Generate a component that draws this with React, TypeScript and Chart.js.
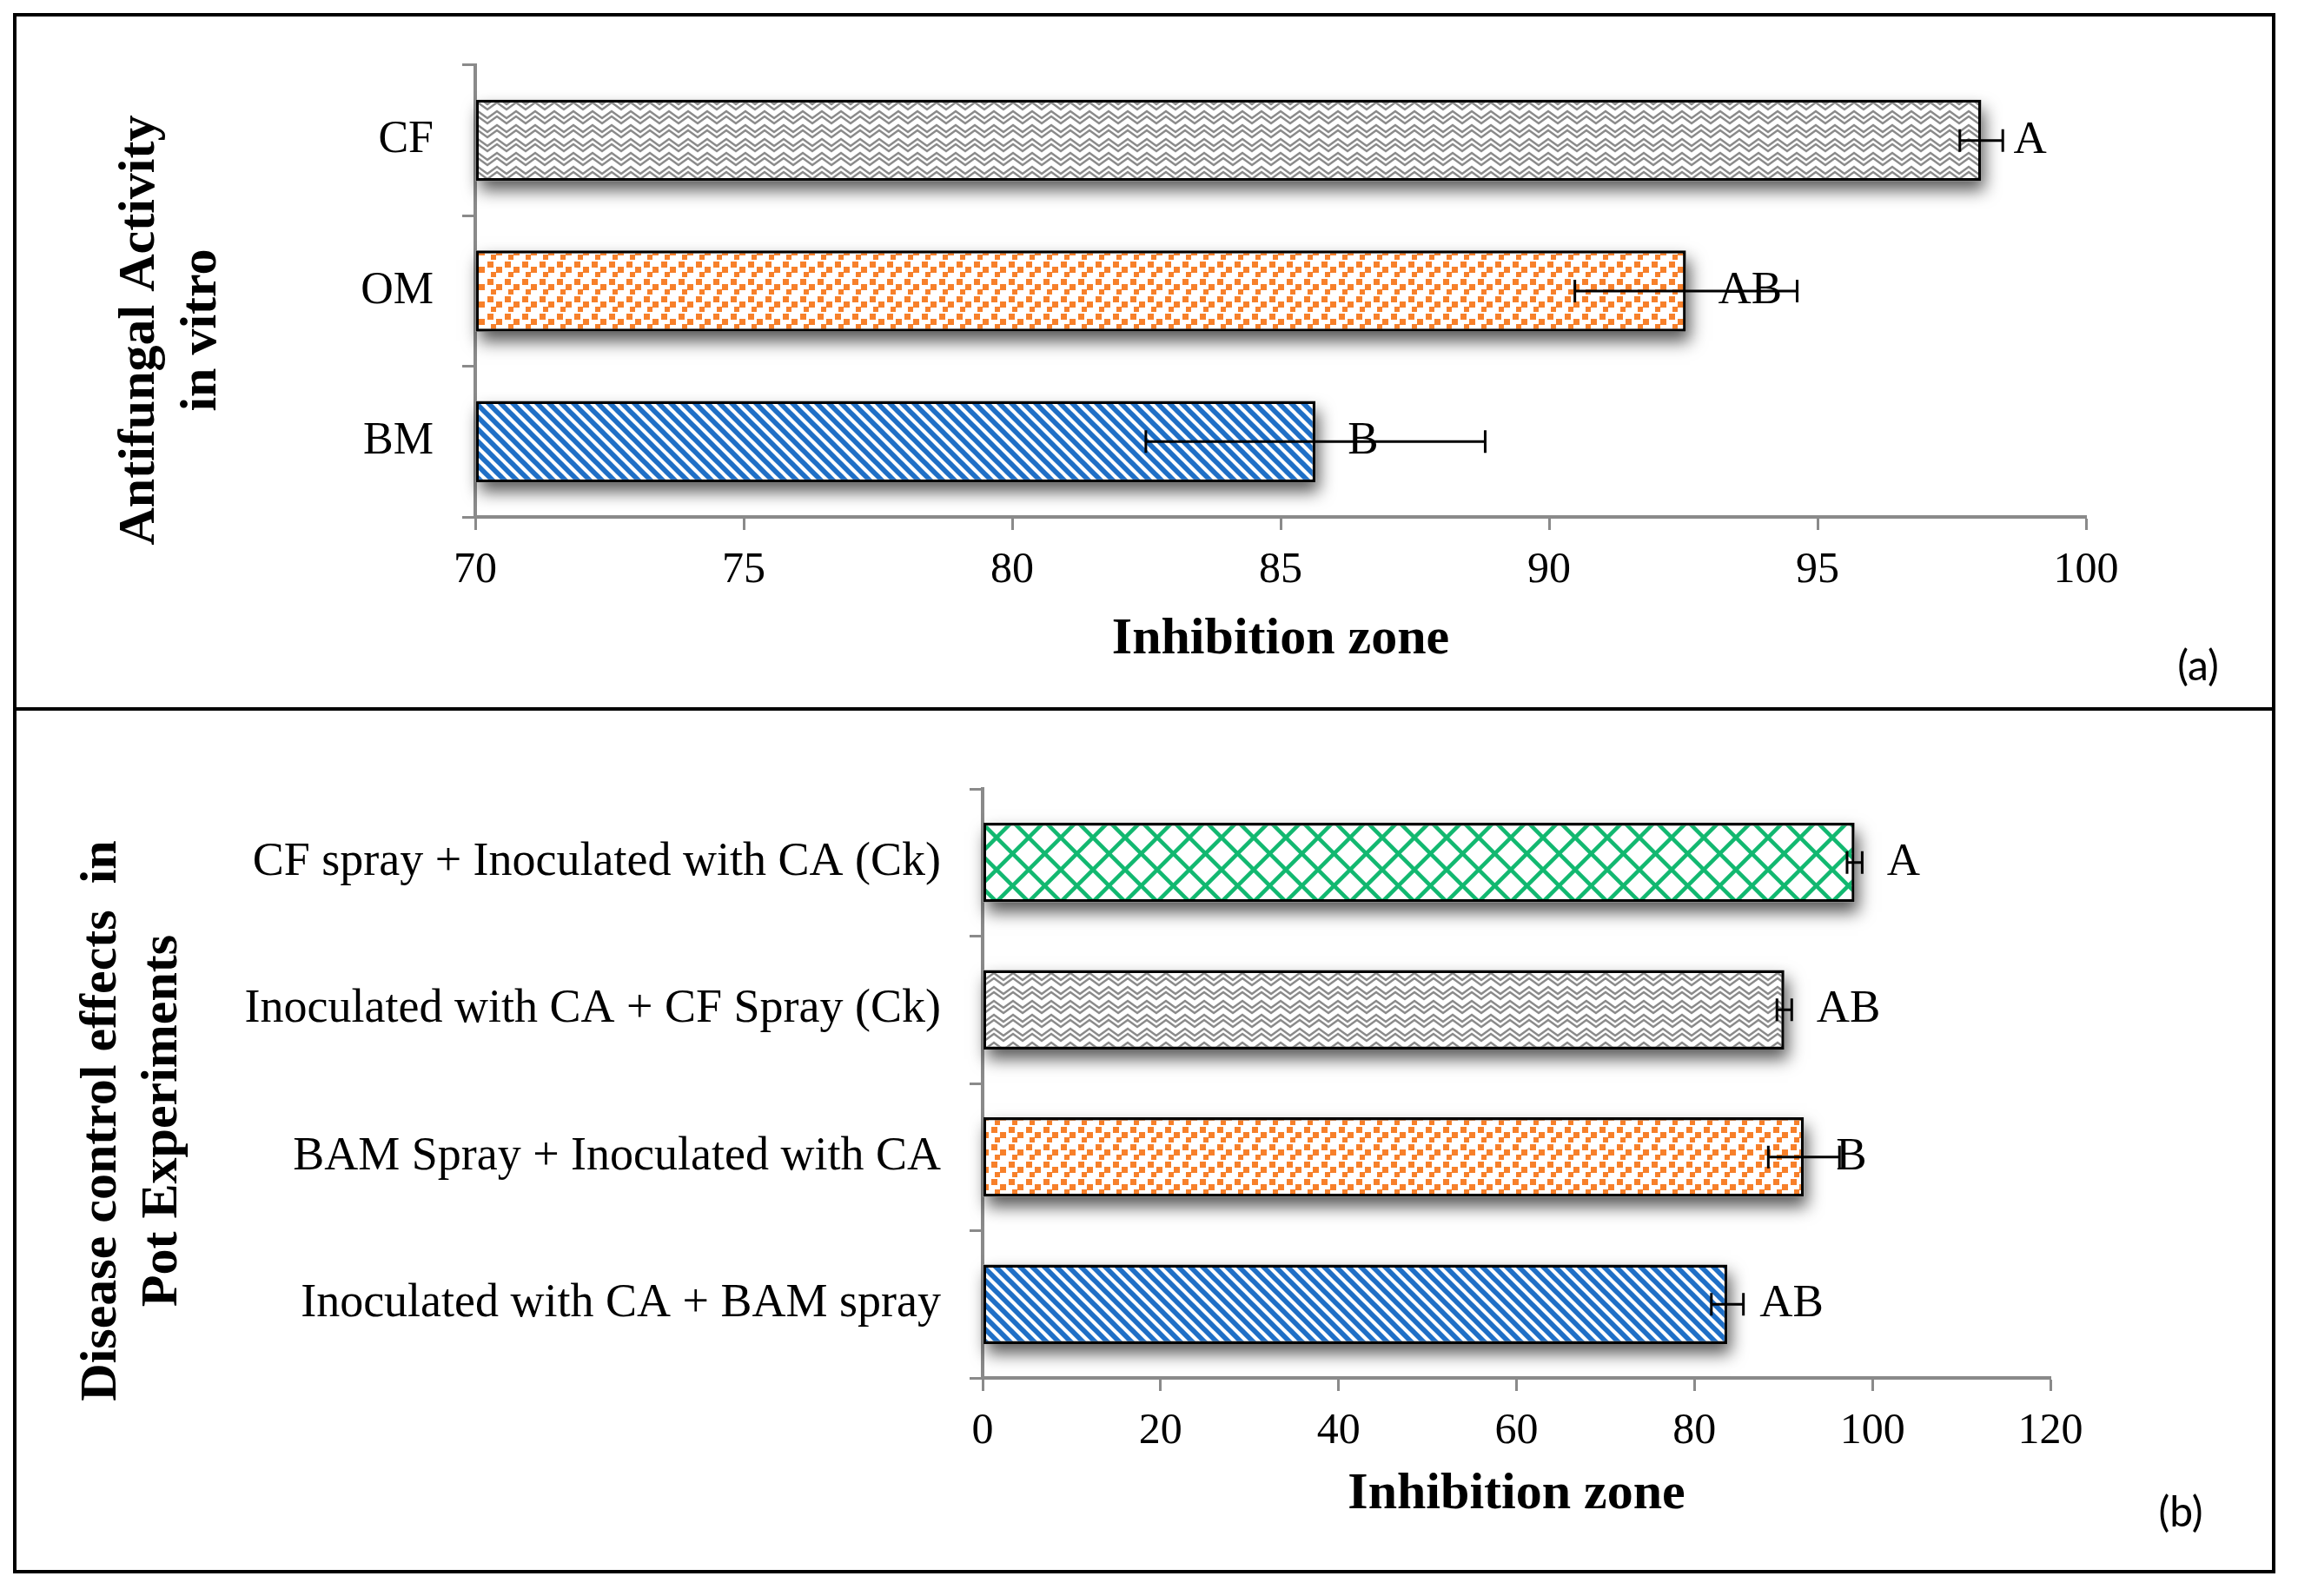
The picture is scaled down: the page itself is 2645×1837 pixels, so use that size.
import React, { useEffect, useRef } from 'react';
import { Chart, registerables } from 'chart.js';

Chart.register(...registerables);

// ---------- data ----------
const topCategories = ['CF', 'OM', 'BM'];
const topValues = [98.05, 92.55, 85.65];
const topErrors = [0.4, 2.07, 3.16];
const topLetters = ['A', 'AB', 'B'];
const topPatterns = ['zigzag', 'dots', 'stripes'];
const topAxis = { min: 70, max: 100, step: 5 };
const topYTitle = ['Antifungal Activity', 'in vitro'];

const bottomCategories = [
  'CF spray + Inoculated with CA (Ck)',
  'Inoculated with CA + CF Spray (Ck)',
  'BAM Spray + Inoculated with CA',
  'Inoculated with CA + BAM spray',
];
const bottomValues = [98.0, 90.1, 92.3, 83.7];
const bottomErrors = [0.85, 0.83, 4.0, 1.8];
const bottomLetters = ['A', 'AB', 'B', 'AB'];
const bottomPatterns = ['diamond', 'zigzag', 'dots', 'stripes'];
const bottomAxis = { min: 0, max: 120, step: 20 };
const bottomYTitle = ['Disease control effects  in', 'Pot Experiments'];

const xTitle = 'Inhibition zone';

// ---------- styling ----------
const W = 2645;
const H = 1837;
const SERIF = '"Liberation Serif", "Times New Roman", serif';
const AXIS = '#8a8a8a';

function makePattern(kind: string): CanvasPattern | string {
  const c = document.createElement('canvas');
  const g = c.getContext('2d');
  if (!g) return '#ccc';
  if (kind === 'zigzag') {
    c.width = 22; c.height = 16;
    g.fillStyle = '#fff'; g.fillRect(0, 0, 22, 16);
    g.strokeStyle = '#8a8a8a'; g.lineWidth = 2.4;
    for (const oy of [-16, -10, 0, 6, 16]) {
      g.beginPath();
      g.moveTo(-11, oy + 8); g.lineTo(0, oy); g.lineTo(11, oy + 8); g.lineTo(22, oy); g.lineTo(33, oy + 8);
      g.stroke();
    }
  } else if (kind === 'dots') {
    c.width = 20; c.height = 20;
    g.fillStyle = '#fff'; g.fillRect(0, 0, 20, 20);
    g.fillStyle = '#f7802a';
    g.fillRect(1, 1, 7, 7);
    g.fillRect(11, 7, 7, 7);
    g.fillRect(5, 13, 6, 6);
  } else if (kind === 'stripes') {
    const s = 14;
    c.width = s; c.height = s;
    g.fillStyle = '#fff'; g.fillRect(0, 0, s, s);
    g.strokeStyle = '#1f6fc6'; g.lineWidth = 5.8;
    for (const d of [-s, 0, s]) {
      g.beginPath(); g.moveTo(d - 3, -3); g.lineTo(d + s + 3, s + 3); g.stroke();
    }
  } else if (kind === 'diamond') {
    const s = 37;
    c.width = s; c.height = s;
    g.fillStyle = '#fff'; g.fillRect(0, 0, s, s);
    g.strokeStyle = '#12b870'; g.lineWidth = 4.5;
    for (const d of [-s, 0, s]) {
      g.beginPath(); g.moveTo(d - 3, -3); g.lineTo(d + s + 3, s + 3); g.stroke();
      g.beginPath(); g.moveTo(d + s + 3, -3); g.lineTo(d - 3, s + 3); g.stroke();
    }
  }
  return g.createPattern(c, 'repeat') || '#ccc';
}

type PanelProps = {
  top: number;
  height: number;
  categories: string[];
  values: number[];
  errors: number[];
  letters: string[];
  patterns: string[];
  axis: { min: number; max: number; step: number };
  area: { left: number; top: number; right: number; bottom: number };
  xTitlePad: number;
  labelSize: number;
  yTitle: string[];
  yTitleX: number[];
  yTitleY: number;
  tag: string;
  tagX: number;
  tagY: number;
};

function Panel(p: PanelProps) {
  const ref = useRef<HTMLCanvasElement | null>(null);
  useEffect(() => {
    const canvas = ref.current;
    if (!canvas) return;
    const fills = p.patterns.map(makePattern);

    const shadowPlugin = {
      id: 'barShadow',
      beforeDatasetsDraw(chart: any) {
        const ctx = chart.ctx;
        const meta = chart.getDatasetMeta(0);
        ctx.save();
        ctx.shadowColor = 'rgba(0,0,0,0.65)';
        ctx.shadowBlur = 18;
        ctx.shadowOffsetX = 4;
        ctx.shadowOffsetY = 11;
        ctx.fillStyle = '#fff';
        meta.data.forEach((el: any) => {
          const q = el.getProps(['x', 'y', 'base', 'height'], true);
          const l = Math.min(q.x, q.base);
          const w = Math.abs(q.x - q.base);
          ctx.fillRect(l, q.y - q.height / 2, w, q.height);
        });
        ctx.restore();
      },
    };

    const annotatePlugin = {
      id: 'errLetters',
      afterDatasetsDraw(chart: any) {
        const ctx = chart.ctx;
        const xs = chart.scales.x;
        const meta = chart.getDatasetMeta(0);
        ctx.save();
        meta.data.forEach((el: any, i: number) => {
          const q = el.getProps(['y'], true);
          const y = q.y;
          const lo = xs.getPixelForValue(p.values[i] - p.errors[i]);
          const hi = xs.getPixelForValue(p.values[i] + p.errors[i]);
          ctx.strokeStyle = '#000';
          ctx.lineWidth = 3;
          ctx.beginPath();
          ctx.moveTo(lo, y); ctx.lineTo(hi, y);
          ctx.moveTo(lo, y - 13); ctx.lineTo(lo, y + 13);
          ctx.moveTo(hi, y - 13); ctx.lineTo(hi, y + 13);
          ctx.stroke();
          const end = xs.getPixelForValue(p.values[i]);
          ctx.fillStyle = '#000';
          ctx.font = `53px ${SERIF}`;
          ctx.textAlign = 'left';
          ctx.textBaseline = 'middle';
          ctx.fillText(p.letters[i], end + 37, y);
        });
        ctx.restore();
      },
    };

    const textPlugin = {
      id: 'panelText',
      afterDraw(chart: any) {
        const ctx = chart.ctx;
        ctx.save();
        ctx.fillStyle = '#000';
        ctx.font = `bold 60px ${SERIF}`;
        ctx.textAlign = 'center';
        ctx.textBaseline = 'middle';
        p.yTitle.forEach((line, i) => {
          ctx.save();
          ctx.translate(p.yTitleX[i], p.yTitleY);
          ctx.rotate(-Math.PI / 2);
          ctx.fillText(line, 0, 0);
          ctx.restore();
        });
        ctx.font = '48px Lato, "Open Sans", sans-serif';
        ctx.fillText(p.tag, p.tagX, p.tagY);
        ctx.restore();
      },
    };

    const chart = new Chart(canvas, {
      type: 'bar',
      data: {
        labels: p.categories,
        datasets: [
          {
            data: p.values,
            backgroundColor: fills as any,
            borderColor: '#000',
            borderWidth: 3.5,
            borderSkipped: false,
            base: p.axis.min,
            barPercentage: 0.54,
            categoryPercentage: 1,
          } as any,
        ],
      },
      options: {
        indexAxis: 'y',
        responsive: false,
        animation: false,
        devicePixelRatio: 1,
        layout: {
          padding: { left: 0, top: p.area.top, right: W - p.area.right, bottom: 0 },
        },
        plugins: {
          legend: { display: false },
          tooltip: { enabled: false },
        },
        scales: {
          x: {
            type: 'linear',
            min: p.axis.min,
            max: p.axis.max,
            ticks: {
              stepSize: p.axis.step,
              font: { family: SERIF, size: 50 },
              color: '#000',
              padding: 17,
              maxRotation: 0,
            },
            grid: {
              drawOnChartArea: false,
              drawTicks: true,
              tickLength: 15,
              tickColor: AXIS,
              tickWidth: 3,
            },
            border: { display: true, color: AXIS, width: 4 },
            title: {
              display: true,
              text: xTitle,
              color: '#000',
              font: { family: SERIF, size: 60, weight: 'bold' },
              padding: { top: 0, bottom: p.xTitlePad },
            },
            afterFit: (s: any) => {
              s.height = p.height - p.area.bottom;
            },
          },
          y: {
            type: 'category',
            z: 1,
            ticks: {
              font: { family: SERIF, size: p.labelSize },
              color: '#000',
              padding: 33,
              autoSkip: false,
            },
            grid: {
              drawOnChartArea: false,
              drawTicks: true,
              tickLength: 15,
              tickColor: AXIS,
              tickWidth: 3,
              offset: true,
            },
            border: { display: true, color: AXIS, width: 4 },
            afterFit: (s: any) => {
              s.width = p.area.left;
            },
          },
        },
      } as any,
      plugins: [shadowPlugin, annotatePlugin, textPlugin],
    });
    return () => chart.destroy();
  }, []);
  return (
    <canvas
      ref={ref}
      width={W}
      height={p.height}
      style={{ position: 'absolute', left: 0, top: p.top, width: W, height: p.height }}
    />
  );
}

export default function App() {
  return (
    <div
      style={{
        position: 'absolute',
        left: 0,
        top: 0,
        width: W,
        height: H,
        background: '#fff',
        overflow: 'hidden',
      }}
    >
      <Panel
        top={0}
        height={816}
        categories={topCategories}
        values={topValues}
        errors={topErrors}
        letters={topLetters}
        patterns={topPatterns}
        axis={topAxis}
        area={{ left: 547, top: 75, right: 2401, bottom: 595 }}
        xTitlePad={44}
        labelSize={52}
        yTitle={topYTitle}
        yTitleX={[161, 232]}
        yTitleY={380}
        tag="(a)"
        tagX={2530}
        tagY={768}
      />
      <Panel
        top={816}
        height={1021}
        categories={bottomCategories}
        values={bottomValues}
        errors={bottomErrors}
        letters={bottomLetters}
        patterns={bottomPatterns}
        axis={bottomAxis}
        area={{ left: 1131, top: 92, right: 2360, bottom: 770 }}
        xTitlePad={81}
        labelSize={54}
        yTitle={bottomYTitle}
        yTitleX={[117, 187]}
        yTitleY={474}
        tag="(b)"
        tagX={2510}
        tagY={926}
      />
      <div
        style={{
          position: 'absolute',
          left: 15,
          top: 15,
          width: 2604,
          height: 1796,
          border: '4px solid #000',
          boxSizing: 'border-box',
          pointerEvents: 'none',
        }}
      />
      <div
        style={{
          position: 'absolute',
          left: 15,
          top: 814,
          width: 2604,
          height: 4,
          background: '#000',
          pointerEvents: 'none',
        }}
      />
    </div>
  );
}
